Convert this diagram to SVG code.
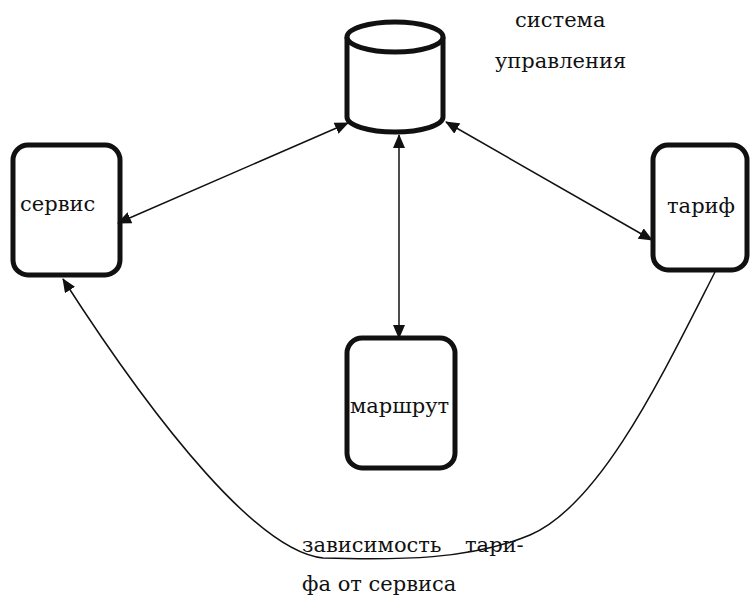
<svg xmlns="http://www.w3.org/2000/svg" width="753" height="596" viewBox="0 0 753 596">
<style>
.node{fill:#fff;stroke:#111;stroke-width:5}
.lbl{font-family:'DejaVu Serif','Liberation Serif',serif;font-size:21px;fill:#111}
.con{fill:none;stroke:#111;stroke-width:1.5}
</style>
<defs>
<marker id="ah" viewBox="0 0 14 12" refX="13" refY="6" markerWidth="14" markerHeight="12" markerUnits="userSpaceOnUse" orient="auto-start-reverse">
<path d="M0,0 L14,6 L0,12 z" fill="#111"/>
</marker>
</defs>
<g id="system">
<path class="node" d="M347,37 L347,117 A48,15 0 0 0 443,117 L443,37"/>
<ellipse class="node" cx="395" cy="37" rx="48" ry="15"/>
<text class="lbl" x="515" y="27">система</text>
<text class="lbl" x="495" y="68">управления</text>
</g>
<g id="service">
<rect class="node" x="13" y="145" width="107" height="130" rx="15"/>
<text class="lbl" x="20" y="211">сервис</text>
</g>
<g id="tariff">
<rect class="node" x="653" y="145" width="94" height="125" rx="15"/>
<text class="lbl" x="667" y="213">тариф</text>
</g>
<g id="route">
<rect class="node" x="347" y="338" width="108" height="130" rx="15"/>
<text class="lbl" x="350" y="413">маршрут</text>
</g>
<g id="connectors">
<line class="con" x1="348" y1="123" x2="118" y2="223" marker-start="url(#ah)" marker-end="url(#ah)"/>
<line class="con" x1="399" y1="135" x2="399" y2="338" marker-start="url(#ah)" marker-end="url(#ah)"/>
<line class="con" x1="446" y1="122" x2="652" y2="240" marker-start="url(#ah)" marker-end="url(#ah)"/>
<path class="con" d="M715,272 C660,380 600,505 530,535 C470,560 400,560 323,558 C260,552 160,430 63,279" marker-end="url(#ah)"/>
</g>
<g id="dep-label">
<text class="lbl" y="552"><tspan x="302">зависимость</tspan><tspan x="465">тари-</tspan></text>
<text class="lbl" x="302" y="591">фа от сервиса</text>
</g>
</svg>
